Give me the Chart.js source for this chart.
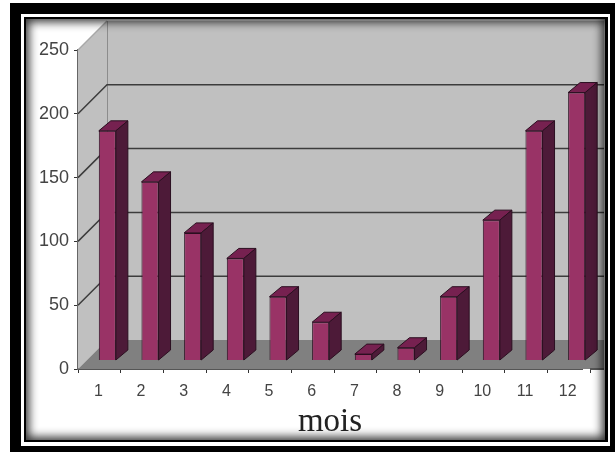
<!DOCTYPE html>
<html>
<head>
<meta charset="utf-8">
<style>
html, body { margin: 0; padding: 0; background: #fff; overflow: hidden; }
#page { position: relative; width: 615px; height: 452px; background: #fff; overflow: hidden; }
#noir { position: absolute; left: 10px; top: 3px; width: 605px; height: 449px; background: #000; }
#blanc { position: absolute; left: 21px; top: 14px; width: 589px; height: 432px; background: #fff; }
#filet { position: absolute; left: 24px; top: 17px; width: 584px; height: 425px; background: #000; }
#fond { position: absolute; left: 26px; top: 19px; width: 579px; height: 421px; background: #fff; }
#ombre { position: absolute; left: 26px; top: 19px; width: 579px; height: 421px; box-shadow: inset 0 0 10px 3px rgba(0,0,0,0.8); pointer-events: none; }
canvas { position: absolute; left: 0; top: 0; filter: blur(0.6px); }
</style>
</head>
<body>
<div id="page">
  <div id="noir"></div>
  <div id="blanc"></div>
  <div id="filet"></div>
  <div id="fond"></div>
  <canvas id="graphe" width="615" height="452"></canvas>
  <div id="ombre"></div>
</div>
<script src="https://cdn.jsdelivr.net/npm/chart.js@4"></script>
<script>
const mois = ['1', '2', '3', '4', '5', '6', '7', '8', '9', '10', '11', '12'];
const valeurs = [180, 140, 100, 80, 50, 30, 5, 10, 50, 110, 180, 210];
const graduations = [0, 50, 100, 150, 200, 250];

const profondeur = 29;     // recul du mur du fond
const decalageBarre = [8, -8.5];
const cote = [12, -10];    // epaisseur 3D des barres
const bordDroit = 604;

// Murs, sol et lignes de grille en fausse 3D
const murs3D = {
    id: 'murs3D',
    afterLayout(chart) {
        // le titre "mois" n'est pas tout a fait centre sur l'axe
        chart.scales.x.right -= 8;
    },
    beforeDatasetsDraw(chart) {
        const c = chart.ctx;
        const y = chart.scales.y;
        const area = chart.chartArea;
        const haut = y.getPixelForValue(250);
        const bas = y.getPixelForValue(0);

        c.save();
        c.fillStyle = '#c0c0c0';
        c.fillRect(area.left + profondeur, haut - profondeur, bordDroit - area.left - profondeur, bas - haut);
        c.beginPath();
        c.moveTo(area.left, haut);
        c.lineTo(area.left + profondeur, haut - profondeur);
        c.lineTo(area.left + profondeur, bas - profondeur);
        c.lineTo(area.left, bas);
        c.closePath();
        c.fill();

        // sol
        c.fillStyle = '#808080';
        c.beginPath();
        c.moveTo(area.left, bas);
        c.lineTo(area.left + profondeur, bas - profondeur);
        c.lineTo(bordDroit, bas - profondeur);
        c.lineTo(bordDroit, bas);
        c.closePath();
        c.fill();

        // l'axe X continue jusqu'au bord de l'image
        c.strokeStyle = '#555';
        c.lineWidth = 2;
        c.beginPath();
        c.moveTo(area.right, bas);
        c.lineTo(bordDroit, bas);
        c.stroke();

        // arete du fond
        c.strokeStyle = '#8c8c8c';
        c.lineWidth = 1;
        c.beginPath();
        c.moveTo(area.left + profondeur + 0.5, haut - profondeur);
        c.lineTo(area.left + profondeur + 0.5, bas - profondeur);
        c.stroke();

        graduations.forEach(function (v) {
            if (v === 0) return;
            const py = y.getPixelForValue(v);
            c.strokeStyle = v === 250 ? '#a8a8a8' : '#3c3c3c';
            c.lineWidth = 1.5;
            c.beginPath();
            c.moveTo(area.left, py);
            c.lineTo(area.left + profondeur, py - profondeur);
            if (v !== 250) c.lineTo(bordDroit, py - profondeur);
            c.stroke();
        });
        c.restore();

        c.save();
        c.translate(decalageBarre[0], decalageBarre[1]);
    },
    afterDatasetsDraw(chart) {
        const c = chart.ctx;
        const barres = chart.getDatasetMeta(0).data;
        c.lineWidth = 1;
        c.strokeStyle = '#2b0f20';
        barres.forEach(function (b) {
            const g = b.x - b.width / 2;
            const d = b.x + b.width / 2;
            // dessus
            c.fillStyle = '#762150';
            c.beginPath();
            c.moveTo(g, b.y);
            c.lineTo(g + cote[0], b.y + cote[1]);
            c.lineTo(d + cote[0], b.y + cote[1]);
            c.lineTo(d, b.y);
            c.closePath();
            c.fill();
            c.stroke();
            // cote
            c.fillStyle = '#4d1a38';
            c.beginPath();
            c.moveTo(d, b.y);
            c.lineTo(d + cote[0], b.y + cote[1]);
            c.lineTo(d + cote[0], b.base + cote[1]);
            c.lineTo(d, b.base);
            c.closePath();
            c.fill();
            c.stroke();
        });
        c.restore();
    }
};

new Chart(document.getElementById('graphe'), {
    type: 'bar',
    plugins: [murs3D],
    data: {
        labels: mois,
        datasets: [{
            data: valeurs,
            backgroundColor: '#993366',
            borderColor: '#2b0f20',
            borderWidth: 1,
            barPercentage: 0.4,
            categoryPercentage: 1
        }]
    },
    options: {
        responsive: false,
        animation: false,
        layout: { padding: { left: 0, right: 25, top: 50, bottom: 0 } },
        plugins: {
            legend: { display: false },
            tooltip: { enabled: false }
        },
        scales: {
            x: {
                afterFit(scale) { scale.height = 83; },
                grid: { drawOnChartArea: false, tickLength: 4, tickColor: '#333', offset: true },
                border: { color: '#555', width: 2 },
                ticks: { color: '#444', font: { family: 'Liberation Sans', size: 16 }, padding: 9, labelOffset: -1, maxRotation: 0 },
                title: {
                    display: true,
                    text: 'mois',
                    color: '#222',
                    font: { family: 'Liberation Serif', size: 33 },
                    padding: { top: 0, bottom: 10 }
                }
            },
            y: {
                min: 0,
                max: 250,
                afterFit(scale) { scale.width = 78; },
                afterBuildTicks(scale) { scale.ticks = graduations.map(function (v) { return { value: v }; }); },
                grid: { drawOnChartArea: false, tickLength: 4, tickColor: '#333' },
                border: { color: '#666', width: 1.5 },
                ticks: { color: '#444', font: { family: 'Liberation Sans', size: 18 }, padding: 5 }
            }
        }
    }
});
</script>
</body>
</html>
